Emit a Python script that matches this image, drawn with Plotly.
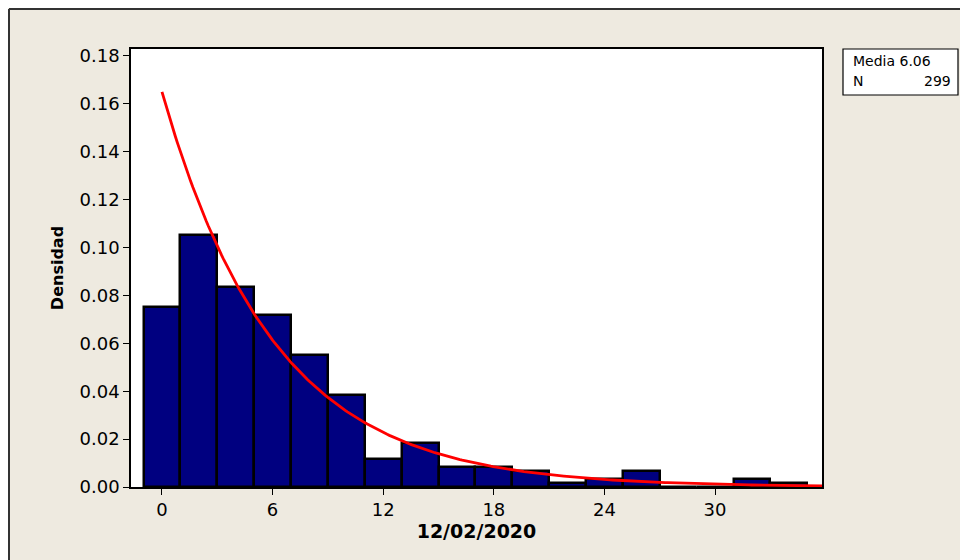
import numpy as np
import plotly.graph_objects as go

# Histogram data (bin centres, bin width 2)
bin_centers = [0, 2, 4, 6, 8, 10, 12, 14, 16, 18, 20, 22, 24, 26, 28, 30, 32, 34]
counts = [45, 63, 50, 43, 33, 23, 7, 11, 5, 5, 4, 1, 2, 4, 0, 0, 2, 1]
bin_width = 2
n_total = 299
mean_value = 6.06
x_ticks = [0, 6, 12, 18, 24, 30]
y_ticks = [0.00, 0.02, 0.04, 0.06, 0.08, 0.10, 0.12, 0.14, 0.16, 0.18]

density = [c / (n_total * bin_width) for c in counts]

# Fitted exponential density (from the shown mean)
x_fit = np.linspace(0, 35.8, 300)
y_fit = (1 / mean_value) * np.exp(-x_fit / mean_value)

# Page has an 8px body margin; figure is drawn at (8, 8)
OFF = 8
W, H = 968, 560
L, T = 123, 41
R = W - (822 - OFF)
B = H - (487 - OFF)
pw, ph = W - L - R, H - T - B


def px(x):
    return (x - OFF - L) / pw


def py(y):
    return (H - B - (y - OFF)) / ph


fig = go.Figure()
fig.add_trace(go.Bar(
    x=bin_centers, y=density, width=bin_width,
    marker=dict(color="#000080", line=dict(color="black", width=2.5)),
    showlegend=False, hoverinfo="x+y"))
fig.add_trace(go.Scatter(
    x=x_fit, y=y_fit, mode="lines",
    line=dict(color="#FF0000", width=2.8), showlegend=False))

axis_font = dict(family="DejaVu Sans, Verdana, sans-serif", size=18, color="black")

fig.update_layout(
    width=W, height=H,
    margin=dict(l=L, r=R, t=T, b=B, pad=0),
    paper_bgcolor="#EEEAE0", plot_bgcolor="white",
    bargap=0,
    font=axis_font,
    xaxis=dict(range=[-1.68, 35.8], tickvals=x_ticks, ticks="outside", ticklen=6,
               tickcolor="black", tickwidth=1, showgrid=False, zeroline=False,
               showline=True, linecolor="black", linewidth=1.5, mirror=True,
               tickfont=dict(size=18),
               title=dict(text="<b>12/02/2020</b>", font=dict(size=19), standoff=5)),
    yaxis=dict(range=[0, 0.1829], tickvals=y_ticks, tickformat=".2f", ticks="outside",
               ticklen=6, tickcolor="black", tickwidth=1, showgrid=False, zeroline=False,
               showline=True, linecolor="black", linewidth=1.5, mirror=True,
               tickfont=dict(size=18),
               title=dict(text="<b>Densidad</b>", font=dict(size=16), standoff=12)),
)

# Outer frame lines (top and left edges of the figure)
fig.add_shape(type="line", xref="paper", yref="paper",
              x0=px(9), x1=px(980), y0=py(9), y1=py(9),
              line=dict(color="#333333", width=2))
fig.add_shape(type="line", xref="paper", yref="paper",
              x0=px(9), x1=px(9), y0=py(9), y1=py(580),
              line=dict(color="#333333", width=2))

# Stats box
fig.add_shape(type="rect", xref="paper", yref="paper",
              x0=px(843), x1=px(958), y0=py(95), y1=py(49),
              line=dict(color="black", width=1.2), fillcolor="white")
box_font = dict(family="DejaVu Sans, Verdana, sans-serif", size=14, color="black")
fig.add_annotation(xref="paper", yref="paper", x=px(851), y=py(61), text="Media 6.06",
                   showarrow=False, xanchor="left", yanchor="middle", font=box_font)
fig.add_annotation(xref="paper", yref="paper", x=px(851), y=py(81), text="N",
                   showarrow=False, xanchor="left", yanchor="middle", font=box_font)
fig.add_annotation(xref="paper", yref="paper", x=px(953), y=py(81), text=str(n_total),
                   showarrow=False, xanchor="right", yanchor="middle", font=box_font)

fig.write_html("out.html")
